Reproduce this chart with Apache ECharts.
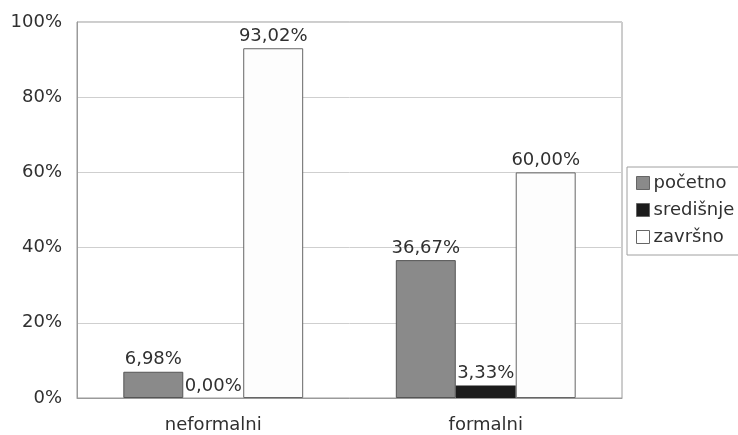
<!DOCTYPE html>
<html>
<head>
<meta charset="utf-8">
<script src="https://cdn.jsdelivr.net/npm/echarts@6/dist/echarts.min.js"></script>
<style>
  html, body { margin: 0; padding: 0; background: #fff; }
  #chart { width: 738px; height: 435px; }
</style>
</head>
<body>
<div id="chart"></div>
<script>
// Categories and series values (percent)
const categories = ['neformalni', 'formalni'];
const seriesNames = ['početno', 'središnje', 'završno'];
const pocetno = [6.98, 36.67];
const sredisnje = [0.00, 3.33];
const zavrsno = [93.02, 60.00];
const yTicks = [0, 20, 40, 60, 80, 100];

const fontFamily = 'DejaVu Sans, Liberation Sans, sans-serif';
const textColor = '#303030';
const fontSize = 18;

function pct(v) {
  return v.toFixed(2).replace('.', ',') + '%';
}

function makeSeries(name, data, fill, border, borderWidth) {
  return {
    name: name,
    type: 'bar',
    data: data,
    barGap: '0%',
    barCategoryGap: '34%',
    itemStyle: { color: fill, borderColor: border, borderWidth: borderWidth },
    label: {
      show: true,
      position: 'top',
      distance: 3,
      color: textColor,
      fontFamily: fontFamily,
      fontSize: fontSize,
      formatter: p => pct(p.value)
    }
  };
}

const chart = echarts.init(document.getElementById('chart'), null, { renderer: 'canvas' });
chart.setOption({
  animation: false,
  backgroundColor: '#fff',
  grid: {
    left: 77, right: 116, top: 22, bottom: 37,
    show: true, borderColor: '#9a9a9a', borderWidth: 1
  },
  legend: {
    orient: 'vertical',
    left: 627, top: 167,
    padding: [7, 30, 9, 9],
    borderColor: '#a0a0a0', borderWidth: 1,
    itemWidth: 13, itemHeight: 13, itemGap: 9,
    icon: 'rect',
    itemStyle: { borderColor: '#666', borderWidth: 1 },
    textStyle: { color: textColor, fontFamily: fontFamily, fontSize: fontSize, padding: [0, 0, 0, -1] },
    data: seriesNames
  },
  xAxis: {
    type: 'category',
    data: categories,
    axisLine: { lineStyle: { color: '#9a9a9a' } },
    axisTick: { show: false },
    axisLabel: { color: textColor, fontFamily: fontFamily, fontSize: fontSize, margin: 18 }
  },
  yAxis: {
    type: 'value',
    min: yTicks[0], max: yTicks[yTicks.length - 1], interval: yTicks[1] - yTicks[0],
    axisLine: { show: true, lineStyle: { color: '#9a9a9a' } },
    axisTick: { show: false },
    splitLine: { lineStyle: { color: '#cfcfcf' } },
    axisLabel: { color: textColor, fontFamily: fontFamily, fontSize: fontSize, margin: 15, formatter: v => v + '%' }
  },
  series: [
    makeSeries(seriesNames[0], pocetno, '#8a8a8a', '#555', 1),
    makeSeries(seriesNames[1], sredisnje, '#1c1c1c', '#111', 0),
    makeSeries(seriesNames[2], zavrsno, '#fdfdfd', '#666', 1)
  ]
});
</script>
</body>
</html>
